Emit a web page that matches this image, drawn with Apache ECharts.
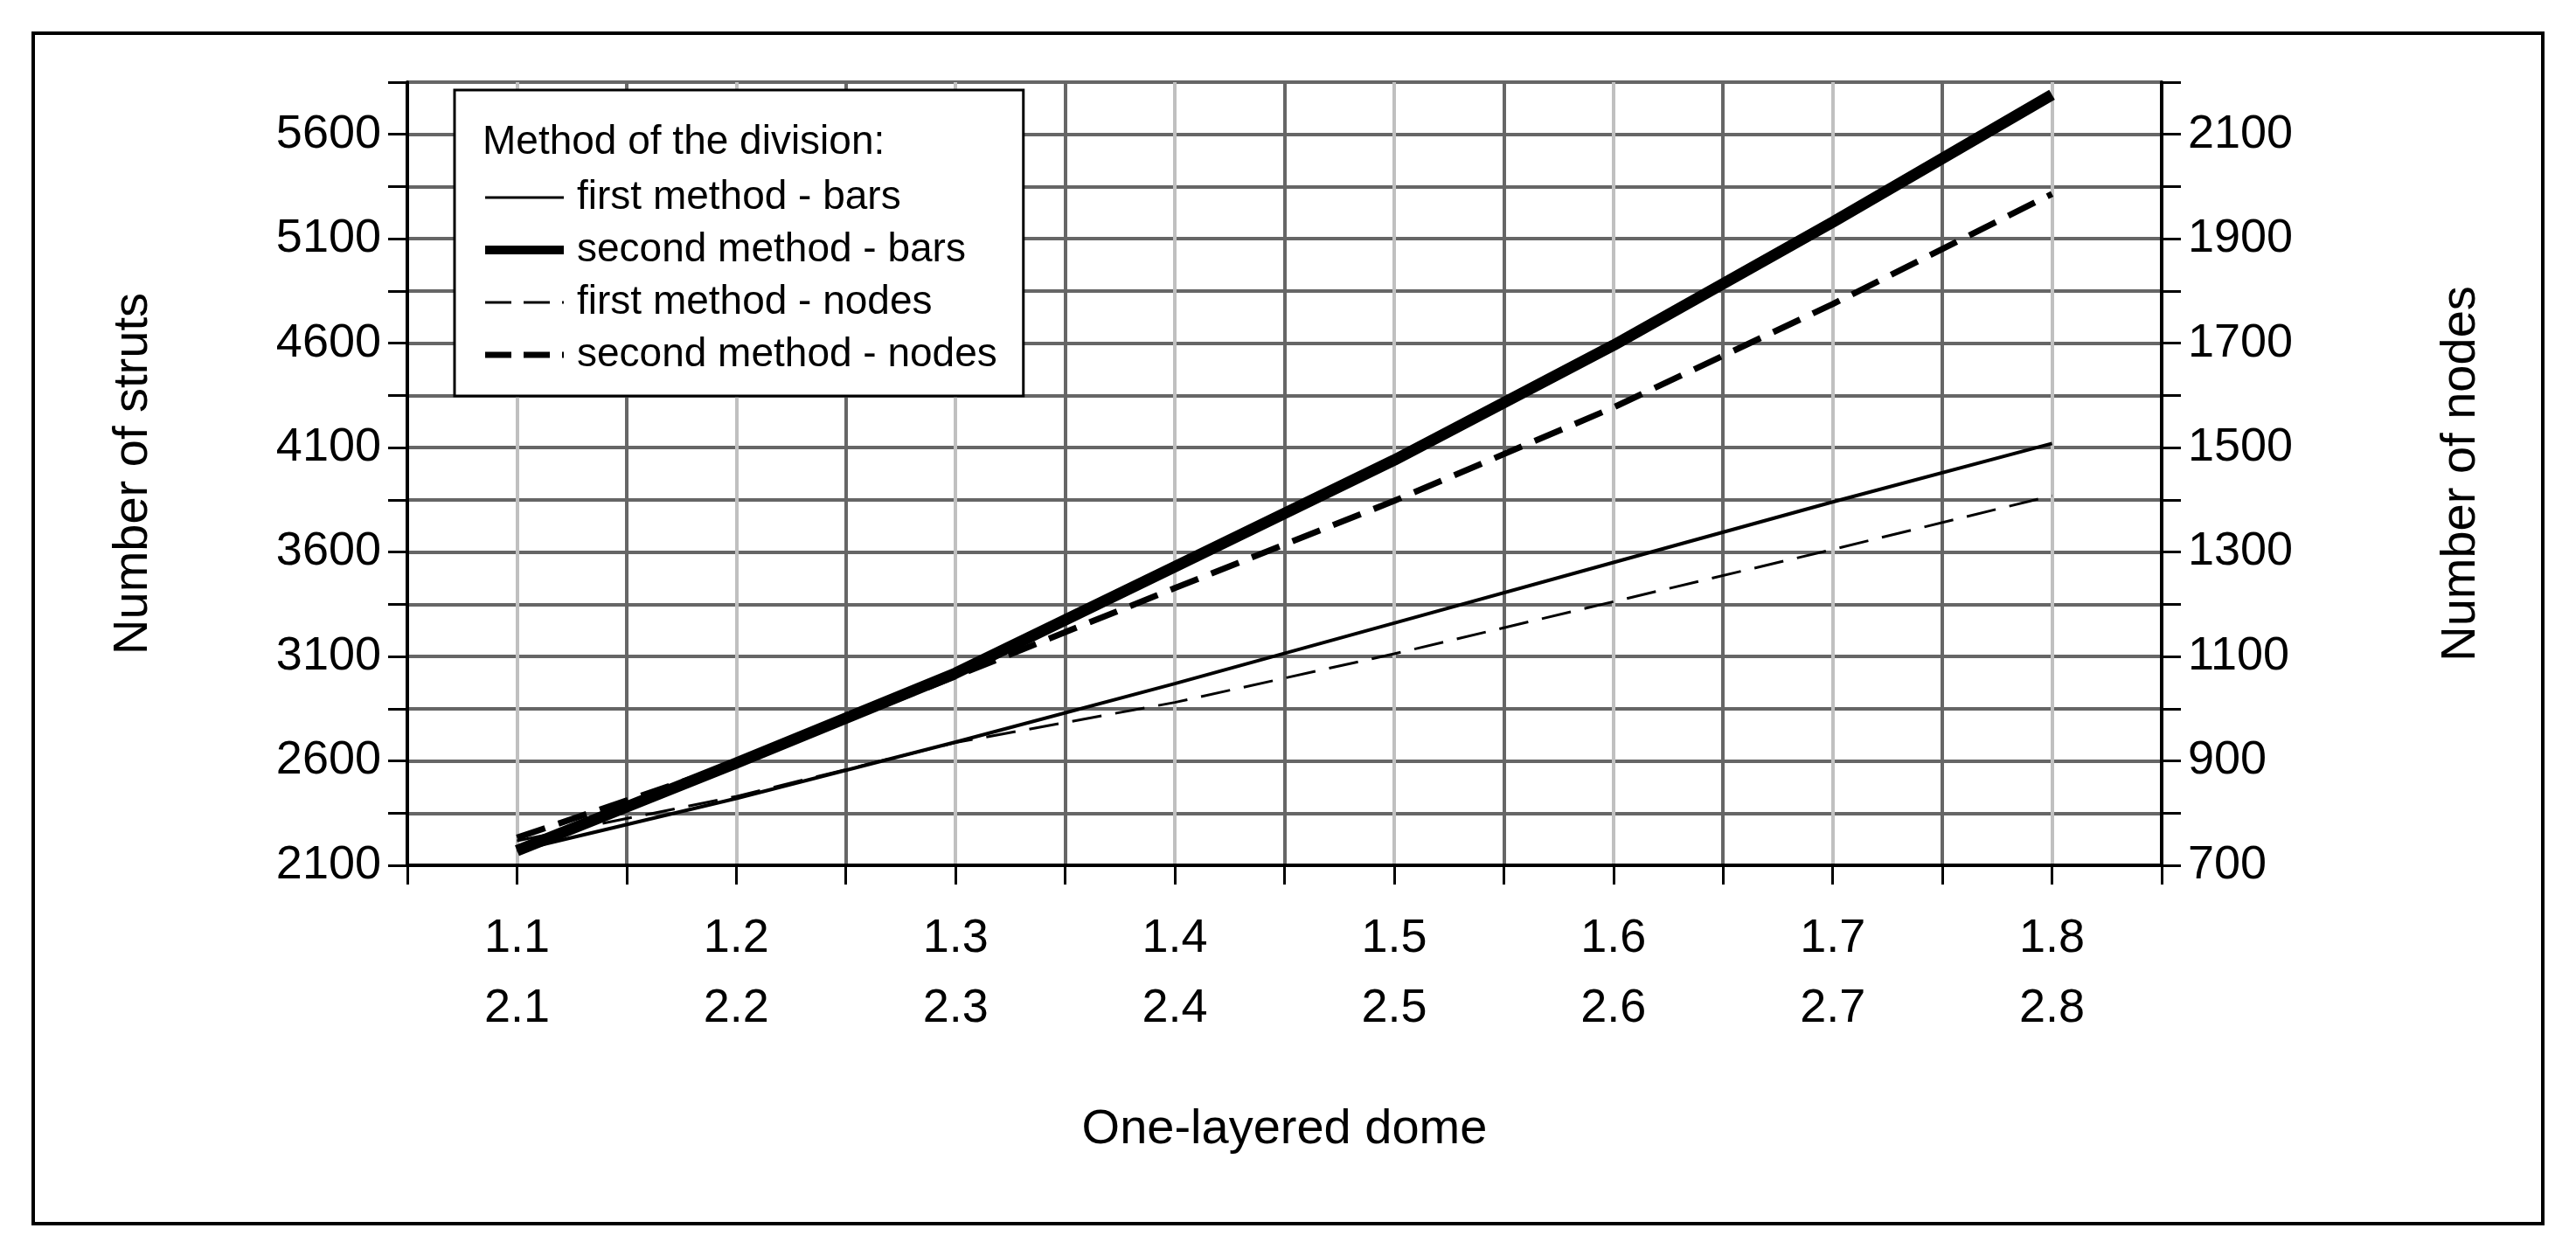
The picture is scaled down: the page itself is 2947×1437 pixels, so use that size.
<!DOCTYPE html>
<html>
<head>
<meta charset="utf-8">
<script src="https://cdn.jsdelivr.net/npm/echarts@6/dist/echarts.min.js"></script>
<style>html,body{margin:0;padding:0;background:#fff}#c{width:2947px;height:1437px}</style>
</head>
<body>
<div id="c"></div>
<script>
var xs = [1.1, 1.2, 1.3, 1.4, 1.5, 1.6, 1.7, 1.8];
var secondLabels = ['2.1', '2.2', '2.3', '2.4', '2.5', '2.6', '2.7', '2.8'];
var firstBars = [2170, 2420, 2690, 2970, 3260, 3550, 3840, 4120];
var secondBars = [2170, 2590, 3020, 3530, 4040, 4590, 5180, 5790];
var firstNodes = [747, 832, 935, 1012, 1105, 1205, 1305, 1408];
var secondNodes = [753, 895, 1062, 1231, 1398, 1577, 1775, 1986];

function pairs(v){ return xs.map(function(x, i){ return [x, v[i]]; }); }

var font = 'Liberation Sans, Arial, sans-serif';
var chart = echarts.init(document.getElementById('c'));
chart.setOption({
  animation: false,
  backgroundColor: '#fff',
  grid: {left: 466, right: 474, top: 94, bottom: 447},
  graphic: [
    {type: 'rect', shape: {x: 38, y: 38, width: 2871, height: 1362}, style: {fill: 'none', stroke: '#000', lineWidth: 4}, z: 0},
    {type: 'text', left: 552, top: 140, style: {text: 'Method of the division:', font: '46px ' + font, fill: '#000'}, z: 100}
  ],
  legend: {
    orient: 'vertical', left: 520, top: 103,
    padding: [100, 30, 24, 30], itemGap: 14,
    backgroundColor: '#fff', borderColor: '#000', borderWidth: 3,
    itemWidth: 90, itemHeight: 40,
    textStyle: {fontSize: 46, fontFamily: font, color: '#000', padding: [0, 0, 0, 10]},
    data: [
      {name: 'first method - bars', itemStyle: {opacity: 0}, lineStyle: {width: 3, color: '#000'}},
      {name: 'second method - bars', itemStyle: {opacity: 0}, lineStyle: {width: 10, color: '#000'}},
      {name: 'first method - nodes', itemStyle: {opacity: 0}, lineStyle: {width: 3, color: '#000', type: [30, 14]}},
      {name: 'second method - nodes', itemStyle: {opacity: 0}, lineStyle: {width: 7, color: '#000', type: [30, 14]}}
    ],
    z: 50
  },
  xAxis: {
    type: 'value', min: 1.05, max: 1.85, interval: 0.05,
    name: 'One-layered dome', nameLocation: 'middle', nameGap: 275,
    nameTextStyle: {fontSize: 56, fontFamily: font, color: '#000'},
    axisLine: {lineStyle: {color: '#000', width: 4}},
    axisTick: {length: 22, lineStyle: {color: '#000', width: 3}},
    axisLabel: {
      margin: 44, fontSize: 54, fontFamily: font, color: '#000', lineHeight: 80,
      formatter: function(v){
        var i = xs.findIndex(function(x){ return Math.abs(x - v) < 1e-6; });
        return i < 0 ? '' : xs[i].toFixed(1) + '\n' + secondLabels[i];
      }
    },
    splitLine: {show: true, lineStyle: {color: ['#666', '#c0c0c0'], width: 4}}
  },
  yAxis: [
    {
      type: 'value', min: 2100, max: 5850, interval: 250, position: 'left',
      name: 'Number of struts', nameLocation: 'middle', nameGap: 285,
      nameTextStyle: {fontSize: 56, fontFamily: font, color: '#000'},
      axisLine: {show: true, lineStyle: {color: '#000', width: 4}},
      axisTick: {show: true, length: 22, lineStyle: {color: '#000', width: 3}},
      axisLabel: {margin: 30, fontSize: 54, fontFamily: font, color: '#000',
        formatter: function(v){ return (v - 2100) % 500 === 0 ? String(v) : ''; }},
      splitLine: {show: true, lineStyle: {color: '#666', width: 4}}
    },
    {
      type: 'value', min: 700, max: 2200, interval: 100, position: 'right',
      name: 'Number of nodes', nameLocation: 'middle', nameGap: 315, nameRotate: 90,
      nameTextStyle: {fontSize: 56, fontFamily: font, color: '#000'},
      axisLine: {show: true, lineStyle: {color: '#000', width: 4}},
      axisTick: {show: true, length: 22, lineStyle: {color: '#000', width: 3}},
      axisLabel: {margin: 30, fontSize: 54, fontFamily: font, color: '#000',
        formatter: function(v){ return (v - 700) % 200 === 0 ? String(v) : ''; }},
      splitLine: {show: false}
    }
  ],
  series: [
    {name: 'first method - bars', type: 'line', yAxisIndex: 0, data: pairs(firstBars), symbol: 'none', color: '#000',
      lineStyle: {color: '#000', width: 4}, z: 10},
    {name: 'second method - bars', type: 'line', yAxisIndex: 0, data: pairs(secondBars), symbol: 'none', color: '#000',
      lineStyle: {color: '#000', width: 13}, z: 10},
    {name: 'first method - nodes', type: 'line', yAxisIndex: 1, data: pairs(firstNodes), symbol: 'none', color: '#000',
      lineStyle: {color: '#000', width: 3, type: [34, 16]}, z: 10},
    {name: 'second method - nodes', type: 'line', yAxisIndex: 1, data: pairs(secondNodes), symbol: 'none', color: '#000',
      lineStyle: {color: '#000', width: 7, type: [34, 16]}, z: 10}
  ]
});
</script>
</body>
</html>
